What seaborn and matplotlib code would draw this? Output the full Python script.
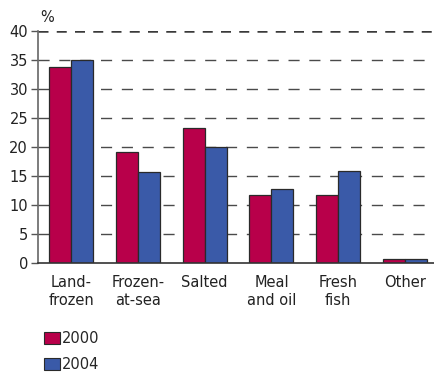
import matplotlib
matplotlib.use("Agg")
import matplotlib.pyplot as plt
import seaborn as sns
import pandas as pd
from matplotlib.patches import Patch

categories = ["Land-\nfrozen", "Frozen-\nat-sea", "Salted", "Meal\nand oil", "Fresh\nfish", "Other"]
years = ["2000", "2004"]
values_2000 = [33.8, 19.1, 23.2, 11.7, 11.7, 0.6]
values_2004 = [35.0, 15.6, 20.0, 12.8, 15.9, 0.6]
yticks = [0, 5, 10, 15, 20, 25, 30, 35, 40]

colors = {"2000": "#B8004A", "2004": "#3A5AA8"}

df = pd.DataFrame({
    "category": categories * 2,
    "year": [years[0]] * len(categories) + [years[1]] * len(categories),
    "share": values_2000 + values_2004,
})

sns.set_style("white")
plt.rcParams["font.family"] = ["DejaVu Sans"]

fig = plt.figure(figsize=(4.35, 3.73), dpi=100)
ax = fig.add_axes([0.087, 0.295, 0.913, 0.622])

# dashed horizontal grid behind the bars
for v in yticks[1:]:
    if v == 40:
        ax.axhline(v, color="#3a3a3a", lw=1.8, ls=(0, (4, 3.3)), zorder=0)
    else:
        ax.axhline(v, color="#4a4a4a", lw=1.0, ls=(0, (8, 7)), zorder=0)

sns.barplot(data=df, x="category", y="share", hue="year", palette=colors,
            saturation=1, width=0.66, edgecolor="#2a2a2a", linewidth=0.9, ax=ax,
            legend=False, zorder=2)

ax.set_xlim(-0.5, 5.45)
ax.set_ylim(0, 40)
ax.set_yticks(yticks)
ax.set_xlabel("")
ax.set_ylabel("")
ax.tick_params(axis="y", length=5, width=1, color="#555555", labelsize=10.5, pad=2, left=True)
ax.tick_params(axis="x", length=0, labelsize=10.5, pad=9)
for lab in ax.get_yticklabels() + ax.get_xticklabels():
    lab.set_color("#222222")

for s in ["top", "right"]:
    ax.spines[s].set_visible(False)
ax.spines["left"].set_color("#666666")
ax.spines["left"].set_linewidth(1.2)
ax.spines["bottom"].set_color("#333333")
ax.spines["bottom"].set_linewidth(1.2)

fig.text(0.092, 0.952, "%", fontsize=10.5, color="#222222", ha="left", va="center")

handles = [Patch(facecolor=colors[y], edgecolor="#2a2a2a", linewidth=0.8, label=y) for y in years]
fig.legend(handles=handles, loc="lower left", bbox_to_anchor=(0.088, -0.014),
           frameon=False, fontsize=10.5, handlelength=1.1, handleheight=0.9,
           handletextpad=0.1, labelspacing=0.8, borderaxespad=0)

fig.savefig("out.png", dpi=100)
